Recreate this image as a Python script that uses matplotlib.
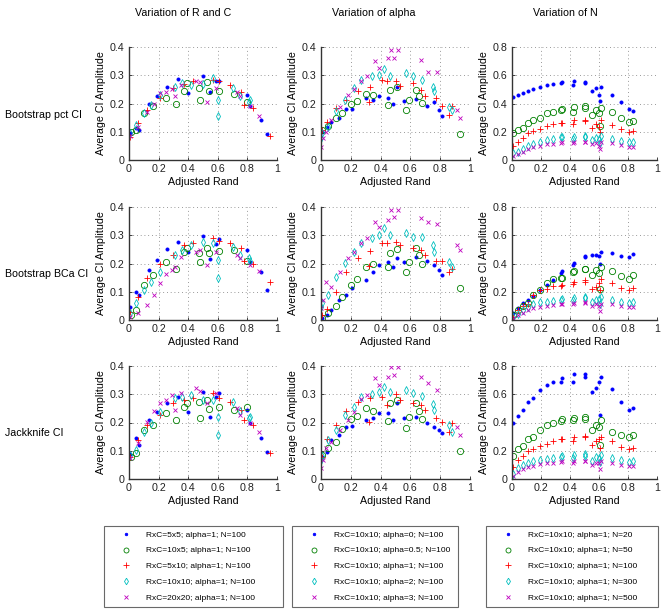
import matplotlib
matplotlib.use("Agg")
import matplotlib.pyplot as plt
import numpy as np

plt.rcParams['font.family'] = ['Liberation Sans', 'DejaVu Sans']

# ---------------- data ----------------
col_titles = ["Variation of R and C", "Variation of alpha", "Variation of N"]
row_labels = ["Bootstrap pct CI", "Bootstrap BCa CI", "Jackknife CI"]
xlabel = "Adjusted Rand"
ylabel = "Average CI Amplitude"
x_ticks = [0, 0.2, 0.4, 0.6, 0.8, 1]
y_ticks_small = [0, 0.1, 0.2, 0.3, 0.4]
y_ticks_large = [0, 0.2, 0.4, 0.6, 0.8]

labels_rc = ["RxC=5x5; alpha=1; N=100", "RxC=10x5; alpha=1; N=100", "RxC=5x10; alpha=1; N=100",
             "RxC=10x10; alpha=1; N=100", "RxC=20x20; alpha=1; N=100"]
labels_alpha = ["RxC=10x10; alpha=0; N=100", "RxC=10x10; alpha=0.5; N=100", "RxC=10x10; alpha=1; N=100",
                "RxC=10x10; alpha=2; N=100", "RxC=10x10; alpha=3; N=100"]
labels_n = ["RxC=10x10; alpha=1; N=20", "RxC=10x10; alpha=1; N=50", "RxC=10x10; alpha=1; N=100",
            "RxC=10x10; alpha=1; N=300", "RxC=10x10; alpha=1; N=500"]

# --- column 1: variation of R and C ---
rc_5x5_x = [0.01, 0.045, 0.065, 0.135, 0.19, 0.26, 0.33, 0.4, 0.5, 0.55, 0.59, 0.61, 0.8, 0.82, 0.89, 0.93]
rc_5x5_pct = [0.095, 0.115, 0.105, 0.2, 0.225, 0.26, 0.285, 0.237, 0.296, 0.24, 0.278, 0.28, 0.23, 0.19, 0.14, 0.092]
rc_5x5_bca = [0.047, 0.1, 0.09, 0.177, 0.212, 0.25, 0.277, 0.24, 0.297, 0.215, 0.27, 0.286, 0.248, 0.206, 0.171, 0.106]
rc_5x5_jk = [0.09, 0.144, 0.12, 0.209, 0.238, 0.268, 0.29, 0.238, 0.309, 0.221, 0.29, 0.303, 0.244, 0.197, 0.144, 0.097]

rc_10x5_x = [0.015, 0.045, 0.1, 0.16, 0.25, 0.32, 0.37, 0.39, 0.48, 0.47, 0.53, 0.54, 0.61, 0.71, 0.8]
rc_10x5_pct = [0.098, 0.105, 0.166, 0.19, 0.22, 0.2, 0.243, 0.272, 0.213, 0.254, 0.275, 0.243, 0.243, 0.233, 0.205]
rc_10x5_bca = [0.018, 0.035, 0.124, 0.16, 0.206, 0.18, 0.242, 0.254, 0.206, 0.236, 0.255, 0.236, 0.245, 0.248, 0.21]
rc_10x5_jk = [0.079, 0.091, 0.174, 0.191, 0.233, 0.209, 0.256, 0.27, 0.217, 0.274, 0.28, 0.247, 0.256, 0.244, 0.256]

rc_5x10_x = [0.005, 0.06, 0.12, 0.21, 0.3, 0.37, 0.43, 0.57, 0.61, 0.68, 0.76, 0.78, 0.84, 0.95]
rc_5x10_pct = [0.083, 0.13, 0.178, 0.22, 0.254, 0.27, 0.278, 0.284, 0.278, 0.266, 0.24, 0.193, 0.183, 0.085]
rc_5x10_bca = [0.03, 0.083, 0.147, 0.2, 0.23, 0.265, 0.274, 0.289, 0.28, 0.274, 0.254, 0.21, 0.2, 0.136]
rc_5x10_jk = [0.079, 0.138, 0.19, 0.227, 0.27, 0.28, 0.285, 0.303, 0.286, 0.274, 0.244, 0.21, 0.191, 0.093]

rc_10x10_x = [0.01, 0.05, 0.1, 0.15, 0.21, 0.31, 0.36, 0.42, 0.5, 0.57, 0.6, 0.6, 0.7, 0.75, 0.81, 0.82]
rc_10x10_pct = [0.095, 0.124, 0.166, 0.195, 0.23, 0.26, 0.272, 0.266, 0.27, 0.29, 0.213, 0.157, 0.254, 0.225, 0.207, 0.213]
rc_10x10_bca = [0.024, 0.059, 0.106, 0.136, 0.171, 0.23, 0.248, 0.265, 0.277, 0.271, 0.212, 0.147, 0.26, 0.23, 0.218, 0.21]
rc_10x10_jk = [0.085, 0.103, 0.168, 0.2, 0.238, 0.286, 0.29, 0.298, 0.28, 0.28, 0.221, 0.156, 0.274, 0.24, 0.215, 0.22]

rc_20x20_x = [0.01, 0.06, 0.12, 0.17, 0.21, 0.25, 0.29, 0.31, 0.35, 0.45, 0.48, 0.53, 0.59, 0.73, 0.75, 0.82, 0.88]
rc_20x20_pct = [0.085, 0.118, 0.17, 0.2, 0.237, 0.24, 0.25, 0.225, 0.266, 0.28, 0.275, 0.207, 0.254, 0.24, 0.225, 0.19, 0.154]
rc_20x20_bca = [0.012, 0.024, 0.053, 0.088, 0.13, 0.163, 0.177, 0.189, 0.224, 0.24, 0.248, 0.195, 0.242, 0.23, 0.22, 0.195, 0.175]
rc_20x20_jk = [0.073, 0.126, 0.203, 0.24, 0.268, 0.28, 0.298, 0.244, 0.303, 0.321, 0.31, 0.268, 0.306, 0.25, 0.227, 0.197, 0.168]

# --- column 2: variation of alpha ---
al_0_x = [0.005, 0.04, 0.07, 0.12, 0.17, 0.21, 0.3, 0.35, 0.39, 0.45, 0.48, 0.51, 0.56, 0.64, 0.71, 0.76, 0.79, 0.81]
al_0_pct = [0.1, 0.118, 0.136, 0.148, 0.18, 0.18, 0.219, 0.213, 0.225, 0.22, 0.2, 0.26, 0.21, 0.215, 0.19, 0.207, 0.178, 0.156]
al_0_bca = [0.006, 0.018, 0.035, 0.07, 0.088, 0.112, 0.142, 0.171, 0.195, 0.207, 0.189, 0.22, 0.207, 0.224, 0.21, 0.195, 0.177, 0.159]
al_0_jk = [0.079, 0.097, 0.138, 0.156, 0.185, 0.188, 0.209, 0.215, 0.233, 0.235, 0.209, 0.268, 0.215, 0.221, 0.2, 0.185, 0.175, 0.164]

al_05_x = [0.01, 0.05, 0.1, 0.14, 0.2, 0.24, 0.3, 0.35, 0.45, 0.46, 0.51, 0.57, 0.59, 0.64, 0.66, 0.68, 0.93]
al_05_pct = [0.107, 0.12, 0.15, 0.166, 0.199, 0.209, 0.233, 0.231, 0.195, 0.249, 0.26, 0.178, 0.213, 0.249, 0.225, 0.201, 0.092]
al_05_bca = [0.006, 0.024, 0.05, 0.083, 0.124, 0.144, 0.189, 0.2, 0.189, 0.236, 0.25, 0.171, 0.207, 0.254, 0.23, 0.2, 0.112]
al_05_jk = [0.085, 0.11, 0.132, 0.176, 0.211, 0.223, 0.25, 0.242, 0.205, 0.268, 0.28, 0.179, 0.221, 0.268, 0.242, 0.211, 0.1]

al_1_x = [0.005, 0.04, 0.1, 0.17, 0.25, 0.32, 0.33, 0.41, 0.44, 0.5, 0.53, 0.62, 0.67, 0.7, 0.77, 0.81, 0.86, 0.88]
al_1_pct = [0.107, 0.136, 0.183, 0.213, 0.243, 0.207, 0.26, 0.284, 0.278, 0.278, 0.263, 0.272, 0.249, 0.225, 0.219, 0.192, 0.16, 0.19]
al_1_bca = [0.018, 0.04, 0.1, 0.171, 0.218, 0.19, 0.245, 0.274, 0.274, 0.277, 0.265, 0.254, 0.248, 0.23, 0.21, 0.209, 0.171, 0.18]
al_1_jk = [0.079, 0.14, 0.19, 0.24, 0.274, 0.203, 0.286, 0.292, 0.262, 0.301, 0.28, 0.268, 0.262, 0.244, 0.215, 0.203, 0.168, 0.2]

al_2_x = [0.002, 0.01, 0.05, 0.1, 0.16, 0.22, 0.27, 0.34, 0.39, 0.42, 0.46, 0.57, 0.62, 0.68, 0.75, 0.76, 0.86, 0.88]
al_2_pct = [0.077, 0.095, 0.118, 0.172, 0.213, 0.254, 0.284, 0.296, 0.302, 0.322, 0.296, 0.308, 0.296, 0.284, 0.258, 0.243, 0.187, 0.178]
al_2_bca = [0.047, 0.06, 0.088, 0.153, 0.203, 0.242, 0.271, 0.289, 0.301, 0.325, 0.301, 0.307, 0.295, 0.293, 0.266, 0.242, 0.207, 0.189]
al_2_jk = [0.067, 0.08, 0.138, 0.174, 0.227, 0.256, 0.289, 0.3, 0.309, 0.325, 0.309, 0.315, 0.303, 0.294, 0.266, 0.244, 0.191, 0.168]

al_3_x = [0.002, 0.016, 0.035, 0.07, 0.13, 0.18, 0.22, 0.27, 0.31, 0.36, 0.39, 0.45, 0.47, 0.49, 0.52, 0.67, 0.72, 0.78, 0.91, 0.93]
al_3_pct = [0.047, 0.077, 0.1, 0.142, 0.189, 0.231, 0.25, 0.278, 0.296, 0.349, 0.325, 0.36, 0.388, 0.361, 0.388, 0.353, 0.31, 0.31, 0.178, 0.148]
al_3_bca = [0.041, 0.071, 0.136, 0.118, 0.171, 0.218, 0.242, 0.271, 0.289, 0.348, 0.328, 0.354, 0.39, 0.366, 0.39, 0.36, 0.348, 0.339, 0.266, 0.248]
al_3_jk = [0.038, 0.067, 0.109, 0.132, 0.174, 0.209, 0.238, 0.282, 0.298, 0.357, 0.333, 0.36, 0.396, 0.368, 0.396, 0.36, 0.341, 0.315, 0.185, 0.156]

# --- column 3: variation of N (same ARI values for every N) ---
n_x = [0.007, 0.04, 0.076, 0.11, 0.145, 0.195, 0.24, 0.28, 0.335, 0.347, 0.42, 0.43, 0.5, 0.506,
       0.55, 0.58, 0.6, 0.61, 0.616, 0.69, 0.754, 0.807, 0.834]
n_20_pct = [0.445, 0.46, 0.473, 0.49, 0.5, 0.52, 0.53, 0.537, 0.544, 0.55, 0.532, 0.556, 0.544, 0.55, 0.49, 0.51, 0.46, 0.42, 0.52, 0.46, 0.41, 0.362, 0.348]
n_50_pct = [0.19, 0.21, 0.23, 0.26, 0.28, 0.3, 0.33, 0.34, 0.355, 0.36, 0.34, 0.375, 0.37, 0.38, 0.32, 0.355, 0.335, 0.24, 0.37, 0.34, 0.296, 0.27, 0.277]
n_100_pct = [0.1, 0.13, 0.155, 0.19, 0.205, 0.22, 0.24, 0.255, 0.265, 0.262, 0.255, 0.28, 0.28, 0.275, 0.23, 0.255, 0.237, 0.2, 0.28, 0.25, 0.22, 0.2, 0.208]
n_300_pct = [0.047, 0.06, 0.08, 0.1, 0.115, 0.13, 0.14, 0.15, 0.16, 0.165, 0.15, 0.165, 0.165, 0.17, 0.14, 0.155, 0.15, 0.12, 0.17, 0.15, 0.135, 0.125, 0.125]
n_500_pct = [0.025, 0.045, 0.06, 0.075, 0.09, 0.1, 0.11, 0.115, 0.12, 0.125, 0.12, 0.13, 0.13, 0.13, 0.11, 0.12, 0.1, 0.08, 0.13, 0.12, 0.105, 0.095, 0.09]

n_20_bca = [0.047, 0.083, 0.118, 0.14, 0.17, 0.21, 0.25, 0.28, 0.335, 0.345, 0.39, 0.405, 0.443, 0.45, 0.46, 0.46, 0.45, 0.4, 0.48, 0.476, 0.45, 0.443, 0.47]
n_50_bca = [0.035, 0.07, 0.1, 0.118, 0.177, 0.21, 0.26, 0.29, 0.295, 0.3, 0.34, 0.347, 0.358, 0.363, 0.32, 0.354, 0.33, 0.217, 0.377, 0.35, 0.31, 0.29, 0.32]
n_100_bca = [0.024, 0.07, 0.1, 0.11, 0.177, 0.21, 0.22, 0.24, 0.24, 0.25, 0.255, 0.27, 0.27, 0.28, 0.217, 0.236, 0.26, 0.212, 0.29, 0.26, 0.224, 0.212, 0.224]
n_300_bca = [0.02, 0.045, 0.07, 0.09, 0.11, 0.125, 0.13, 0.135, 0.145, 0.15, 0.14, 0.155, 0.16, 0.155, 0.13, 0.145, 0.15, 0.11, 0.16, 0.145, 0.13, 0.12, 0.125]
n_500_bca = [0.015, 0.035, 0.05, 0.07, 0.085, 0.095, 0.1, 0.105, 0.11, 0.115, 0.11, 0.12, 0.125, 0.12, 0.1, 0.11, 0.1, 0.065, 0.115, 0.11, 0.1, 0.09, 0.095]

n_20_jk = [0.397, 0.444, 0.485, 0.544, 0.575, 0.63, 0.663, 0.686, 0.69, 0.717, 0.686, 0.74, 0.724, 0.74, 0.615, 0.646, 0.686, 0.45, 0.724, 0.64, 0.544, 0.49, 0.503]
n_50_jk = [0.16, 0.21, 0.235, 0.28, 0.3, 0.345, 0.385, 0.397, 0.41, 0.425, 0.42, 0.43, 0.425, 0.437, 0.35, 0.385, 0.37, 0.24, 0.42, 0.33, 0.313, 0.3, 0.313]
n_100_jk = [0.088, 0.135, 0.16, 0.2, 0.21, 0.235, 0.25, 0.27, 0.28, 0.283, 0.266, 0.297, 0.297, 0.306, 0.24, 0.266, 0.28, 0.218, 0.3, 0.266, 0.226, 0.21, 0.218]
n_300_jk = [0.035, 0.075, 0.1, 0.11, 0.125, 0.135, 0.14, 0.15, 0.155, 0.165, 0.15, 0.17, 0.165, 0.175, 0.13, 0.155, 0.15, 0.12, 0.17, 0.15, 0.135, 0.12, 0.125]
n_500_jk = [0.02, 0.05, 0.07, 0.085, 0.095, 0.105, 0.11, 0.115, 0.12, 0.125, 0.115, 0.13, 0.13, 0.13, 0.1, 0.115, 0.11, 0.07, 0.125, 0.115, 0.1, 0.095, 0.095]

# ---------------- assembly ----------------
col1_x = [rc_5x5_x, rc_10x5_x, rc_5x10_x, rc_10x10_x, rc_20x20_x]
col2_x = [al_0_x, al_05_x, al_1_x, al_2_x, al_3_x]
col3_x = [n_x] * 5
panel_y = [
    [[rc_5x5_pct, rc_10x5_pct, rc_5x10_pct, rc_10x10_pct, rc_20x20_pct],
     [al_0_pct, al_05_pct, al_1_pct, al_2_pct, al_3_pct],
     [n_20_pct, n_50_pct, n_100_pct, n_300_pct, n_500_pct]],
    [[rc_5x5_bca, rc_10x5_bca, rc_5x10_bca, rc_10x10_bca, rc_20x20_bca],
     [al_0_bca, al_05_bca, al_1_bca, al_2_bca, al_3_bca],
     [n_20_bca, n_50_bca, n_100_bca, n_300_bca, n_500_bca]],
    [[rc_5x5_jk, rc_10x5_jk, rc_5x10_jk, rc_10x10_jk, rc_20x20_jk],
     [al_0_jk, al_05_jk, al_1_jk, al_2_jk, al_3_jk],
     [n_20_jk, n_50_jk, n_100_jk, n_300_jk, n_500_jk]],
]
col_x = [col1_x, col2_x, col3_x]
col_labels = [labels_rc, labels_alpha, labels_n]

colors = [(0, 0, 1), (0, 0.5, 0), (1, 0, 0), (0, 0.75, 0.75), (0.75, 0, 0.75)]
markers = ['.', 'o', '+', 'd', 'x']
msizes = [4.5, 4.5, 5, 4.2, 3.5]

W, H = 661, 611
fig = plt.figure(figsize=(W / 100, H / 100), dpi=100)


def rect(l, t, w, h):
    return [l / W, 1 - (t + h) / H, w / W, h / H]


col_left = [129, 321, 512]
col_w = [148, 149, 145]
row_top = [47, 207, 366]
ax_h = 113
FS = 7.7


def fmt(v):
    if abs(v) < 1e-9:
        return "0"
    if abs(v - 1) < 1e-9:
        return "1"
    return ("%.1f" % v)


handles_by_col = [None, None, None]
for r in range(3):
    for c in range(3):
        ax = fig.add_axes(rect(col_left[c], row_top[r], col_w[c], ax_h))
        hs = []
        for k in range(5):
            mfc = 'none' if markers[k] in ('o', 'd') else colors[k]
            h, = ax.plot(col_x[c][k], panel_y[r][c][k], linestyle='none', marker=markers[k],
                         ms=msizes[k], mfc=mfc, mec=colors[k], mew=0.6, color=colors[k])
            hs.append(h)
        handles_by_col[c] = hs
        ax.set_xlim(0, 1)
        yt = y_ticks_large if c == 2 else y_ticks_small
        ax.set_ylim(0, yt[-1])
        ax.set_xticks(x_ticks)
        ax.set_xticklabels([fmt(v) for v in x_ticks], fontsize=FS)
        ax.set_yticks(yt)
        ax.set_yticklabels([fmt(v) for v in yt], fontsize=FS)
        ax.spines['top'].set_visible(False)
        ax.spines['right'].set_visible(False)
        for s in ('left', 'bottom'):
            ax.spines[s].set_color('#333333')
            ax.spines[s].set_linewidth(1.0)
        ax.tick_params(direction='in', length=2.5, width=0.6, colors='#222222', pad=3)
        ax.grid(True, linestyle=(0, (1, 3.5)), linewidth=0.6, color='#777777')
        ax.set_axisbelow(True)
        ax.set_xlabel(xlabel, fontsize=FS, labelpad=2)
        ax.set_ylabel(ylabel, fontsize=FS, labelpad=3)

# titles
title_x = [183, 374, 565]
for c in range(3):
    fig.text(title_x[c] / W, 1 - 13 / H, col_titles[c], ha='center', va='center', fontsize=FS)

# row labels
row_label_y = [115, 274, 433]
for r in range(3):
    fig.text(5 / W, 1 - row_label_y[r] / H, row_labels[r], ha='left', va='center', fontsize=FS)

# legends
leg_left = [104, 292, 486]
leg_w = [179, 166, 172]
for c in range(3):
    leg = fig.legend(handles_by_col[c], col_labels[c], loc='upper left',
                     bbox_to_anchor=(leg_left[c] / W, 1 - 608 / H, leg_w[c] / W, 82 / H),
                     mode='expand', borderaxespad=0, fontsize=6, frameon=True, fancybox=False,
                     edgecolor='#444444', borderpad=0.57, handlelength=4.15, handletextpad=0.33,
                     labelspacing=0.96, numpoints=1, markerscale=0.8)
    leg.get_frame().set_linewidth(0.8)

fig.savefig('out.png', dpi=100)
